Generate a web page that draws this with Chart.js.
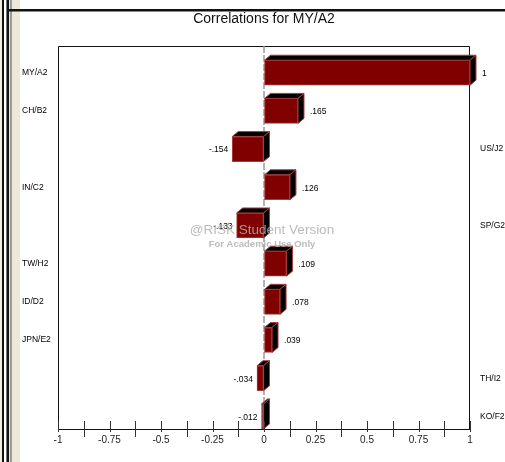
<!DOCTYPE html>
<html>
<head>
<meta charset="utf-8">
<title>Correlations for MY/A2</title>
<script src="https://cdn.jsdelivr.net/npm/chart.js@4.4.0/dist/chart.umd.min.js"></script>
<style>
  html, body { margin: 0; padding: 0; background: #fff; }
  #wrap { width: 505px; height: 462px; }
</style>
</head>
<body>
<div id="wrap"><canvas id="myChart" width="505" height="462"></canvas></div>
<script>
// data, top to bottom
var names = ["MY/A2", "CH/B2", "US/J2", "IN/C2", "SP/G2", "TW/H2", "ID/D2", "JPN/E2", "TH/I2", "KO/F2"];
var values = [1, 0.165, -0.154, 0.126, -0.133, 0.109, 0.078, 0.039, -0.034, -0.012];
var xTicks = [-1, -0.75, -0.5, -0.25, 0, 0.25, 0.5, 0.75, 1];
var chartTitle = "Correlations for MY/A2";
var watermark = ["@RISK Student Version", "For Academic Use Only"];

var FONT = "'Liberation Sans', Arial, Helvetica, sans-serif";
var DX = 6, DY = 5; // 3d depth of the bars
var Y_MIN = -0.7, Y_MAX = 9.33; // category index range shown

function fmtVal(v) {
  return String(v).replace("0.", ".");
}

function indexTicks(s) {
  s.ticks = names.map(function(n, i) { return { value: i }; });
  s.min = Y_MIN;
  s.max = Y_MAX;
}

// window frame on the left + top line
var framePlugin = {
  id: "frame",
  beforeDraw: function(chart) {
    var ctx = chart.ctx;
    ctx.save();
    ctx.fillStyle = "#fff";
    ctx.fillRect(0, 0, chart.width, chart.height);
    var strips = [
      [0, 2, "#f0ede0"], [2, 2, "#111"], [4, 2, "#fff"], [6, 1, "#777"],
      [7, 2, "#111"], [9, 1, "#e8e4d4"], [10, 2, "#9a9a9a"], [12, 8, "#ece9d8"]
    ];
    strips.forEach(function(s) {
      ctx.fillStyle = s[2];
      ctx.fillRect(s[0], 0, s[1], chart.height);
    });
    ctx.fillStyle = "#111";
    ctx.fillRect(7, 9, chart.width - 7, 2.5);
    ctx.restore();
  },
  beforeDatasetsDraw: function(chart) {
    var ctx = chart.ctx, a = chart.chartArea;
    var x0 = chart.scales.x.getPixelForValue(0);
    ctx.save();
    // box
    ctx.strokeStyle = "#111";
    ctx.lineWidth = 1;
    ctx.beginPath();
    ctx.moveTo(a.left + 0.5, a.bottom);
    ctx.lineTo(a.left + 0.5, a.top + 0.5);
    ctx.lineTo(a.right - 0.5, a.top + 0.5);
    ctx.lineTo(a.right - 0.5, a.bottom);
    ctx.stroke();
    // dashed zero line
    ctx.strokeStyle = "#999";
    ctx.lineWidth = 1.5;
    ctx.setLineDash([7, 2]);
    ctx.beginPath();
    ctx.moveTo(x0, a.top);
    ctx.lineTo(x0, a.bottom);
    ctx.stroke();
    ctx.restore();
  },
  afterDatasetsDraw: function(chart) {
    var ctx = chart.ctx;
    var meta = chart.getDatasetMeta(0);
    ctx.save();
    meta.data.forEach(function(bar, i) {
      var p = bar.getProps(["x", "y", "base", "height"], true);
      var left = Math.min(p.x, p.base), right = Math.max(p.x, p.base);
      var top = p.y - p.height / 2, bottom = p.y + p.height / 2;
      ctx.fillStyle = "#000";
      ctx.strokeStyle = "#a83c3c";
      ctx.lineWidth = 1;
      // top face
      ctx.beginPath();
      ctx.moveTo(left, top);
      ctx.lineTo(left + DX, top - DY);
      ctx.lineTo(right + DX, top - DY);
      ctx.lineTo(right, top);
      ctx.closePath();
      ctx.fill();
      ctx.stroke();
      // side face
      ctx.beginPath();
      ctx.moveTo(right, top);
      ctx.lineTo(right + DX, top - DY);
      ctx.lineTo(right + DX, bottom - DY);
      ctx.lineTo(right, bottom);
      ctx.closePath();
      ctx.fill();
      ctx.stroke();
      // value label
      var v = values[i];
      ctx.fillStyle = "#000";
      ctx.font = "8.5px " + FONT;
      ctx.textBaseline = "middle";
      if (v >= 0) {
        ctx.textAlign = "left";
        ctx.fillText(fmtVal(v), right + DX + 6, p.y + 1);
      } else {
        ctx.textAlign = "right";
        ctx.fillText(fmtVal(v), left - 4, p.y + 1);
      }
    });
    ctx.restore();
  },
  afterDraw: function(chart) {
    var ctx = chart.ctx, a = chart.chartArea;
    var xs = chart.scales.x;
    ctx.save();
    // tick marks across the axis
    ctx.strokeStyle = "#333";
    ctx.lineWidth = 1;
    ctx.beginPath();
    xs.ticks.forEach(function(t) {
      var px = Math.round(xs.getPixelForValue(t.value)) + 0.5;
      var labeled = xTicks.indexOf(t.value) >= 0;
      ctx.moveTo(px, a.bottom - 8);
      ctx.lineTo(px, a.bottom + (labeled ? 3 : 8));
    });
    ctx.stroke();
    // watermark
    var cx = (a.left + a.right) / 2 - 2;
    ctx.textAlign = "center";
    ctx.textBaseline = "middle";
    ctx.fillStyle = "rgba(175,175,175,0.85)";
    ctx.font = "13.5px " + FONT;
    ctx.fillText(watermark[0], cx, a.top + 184);
    ctx.font = "bold 9.5px " + FONT;
    ctx.fillText(watermark[1], cx, a.top + 198);
    ctx.restore();
  }
};

var ctx = document.getElementById("myChart").getContext("2d");
var chart = new Chart(ctx, {
  type: "bar",
  data: {
    datasets: [
      {
        data: values.map(function(v, i) { return { x: v, y: i }; }),
        backgroundColor: "#800000",
        borderColor: "#a83c3c",
        borderWidth: 1,
        borderSkipped: false,
        barThickness: 25,
        clip: false
      }
    ]
  },
  plugins: [framePlugin],
  options: {
    indexAxis: "y",
    responsive: false,
    animation: false,
    layout: { padding: { top: 10.6, left: 22, right: 0, bottom: 0 } },
    plugins: {
      legend: { display: false },
      tooltip: { enabled: false },
      title: {
        display: true,
        text: chartTitle,
        fullSize: false,
        color: "#111",
        font: { family: FONT, size: 14, weight: "normal" },
        padding: { top: 0, bottom: 18.6 }
      }
    },
    scales: {
      x: {
        type: "linear",
        min: -1,
        max: 1,
        grid: { display: true, drawOnChartArea: false, drawTicks: true, tickLength: 4, color: "rgba(0,0,0,0)" },
        border: { display: true, color: "#111", width: 1 },
        ticks: {
          stepSize: 0.125,
          autoSkip: false,
          maxRotation: 0,
          padding: 1,
          color: "#222",
          font: { family: FONT, size: 10 },
          callback: function(value) {
            return xTicks.indexOf(value) >= 0 ? String(value) : "";
          }
        },
        afterFit: function(s) { s.height = 33; }
      },
      y: {
        type: "linear",
        position: "left",
        reverse: true,
        offset: false,
        bounds: "data",
        min: Y_MIN,
        max: Y_MAX,
        grid: { display: false, drawTicks: false, offset: false },
        border: { display: false },
        afterBuildTicks: indexTicks,
        ticks: {
          autoSkip: false,
          crossAlign: "far",
          padding: 0,
          color: "#000",
          font: { family: FONT, size: 8.5 },
          callback: function(value) {
            return values[value] >= 0 ? names[value] : "";
          }
        },
        afterFit: function(s) { s.width = 36; }
      },
      y2: {
        type: "linear",
        position: "right",
        reverse: true,
        offset: false,
        bounds: "data",
        min: Y_MIN,
        max: Y_MAX,
        grid: { display: false, drawTicks: false, offset: false },
        border: { display: false },
        afterBuildTicks: indexTicks,
        ticks: {
          autoSkip: false,
          crossAlign: "near",
          padding: 10,
          color: "#000",
          font: { family: FONT, size: 8.5 },
          callback: function(value) {
            return values[value] < 0 ? names[value] : "";
          }
        },
        afterFit: function(s) { s.width = 35; }
      }
    }
  }
});
</script>
</body>
</html>
